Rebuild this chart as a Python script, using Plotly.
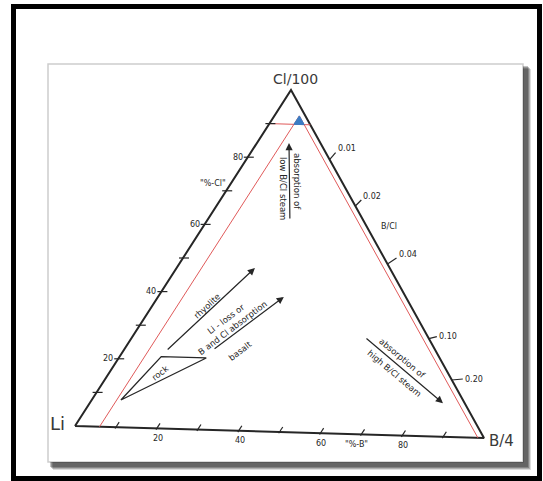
import plotly.graph_objects as go

# ---- data (compositions in percent: Li, B/4, Cl/100) ----
pct_ticks = [10, 20, 30, 40, 50, 60, 70, 80, 90]
pct_labels = [20, 40, 60, 80]
bcl_ratios = [0.01, 0.02, 0.04, 0.10, 0.20]
bcl_labels = ["0.01", "0.02", "0.04", "0.10", "0.20"]

rock_li = [85, 69, 58]
rock_b = [7, 10, 21]
rock_cl = [8, 21, 21]

# red guide lines: constant B/4 = 6 %, constant Li = 1.5 %, constant Cl/100 = 90 %
red_b6_li = [94, 1.5]
red_b6_b = [6, 6]
red_b6_cl = [0, 92.5]
red_li_li = [1.5, 1.5]
red_li_b = [6, 98.5]
red_li_cl = [92.5, 0]
red_cl_li = [10, 0]
red_cl_b = [0, 10]
red_cl_cl = [90, 90]

# blue field near the Cl apex
blue_li = [4, 1.5, 1.5]
blue_b = [6, 8.5, 6]
blue_cl = [90, 90, 92.5]

# process arrows: (tail composition, head composition)
arrow_low = ((18.2, 19.8, 62.0), (7.8, 7.7, 84.5))
arrow_rhy = ((67.0, 10.3, 22.7), (33.5, 18.8, 47.7))
arrow_bas = ((55.2, 21.4, 23.4), (30.3, 30.2, 39.5))
arrow_high = ((15.7, 55.9, 28.4), (5.4, 84.8, 9.8))

# ---- drawing geometry (page pixels) ----
V_LI = (75.0, 426.0)
V_B = (484.0, 438.0)
V_CL = (291.0, 90.0)
W, H = 543, 481
INK = "#262626"
FONT = "DejaVu Sans"


def tern(li, b, cl):
    s = li + b + cl
    li, b, cl = li / s, b / s, cl / s
    x = li * V_LI[0] + b * V_B[0] + cl * V_CL[0]
    y = li * V_LI[1] + b * V_B[1] + cl * V_CL[1]
    return x, y


def path(lis, bs, cls, close=False):
    pts = [tern(a, b, c) for a, b, c in zip(lis, bs, cls)]
    if close:
        pts.append(pts[0])
    return [p[0] for p in pts], [p[1] for p in pts]


fig = go.Figure()

# page frame, sheet and its shadow
shapes = [
    dict(type="rect", x0=0, y0=0, x1=W, y1=H, fillcolor="white", line_width=0, layer="below"),
]
for off, a in [(8, 0.14), (7, 0.2), (6, 0.24), (5, 0.24)]:
    shapes.append(dict(type="rect", x0=48 + off - 3, y0=64 + off - 3, x1=523 + off, y1=462 + off,
                       fillcolor=f"rgba(0,0,0,{a})", line_width=0, layer="below"))
shapes.append(dict(type="rect", x0=48, y0=64, x1=523, y1=462, fillcolor="white",
                   line=dict(color="rgba(0,0,0,0.2)", width=1.5), layer="below"))
shapes.append(dict(type="rect", x0=13.5, y0=6.5, x1=539.5, y1=478.5, fillcolor="rgba(0,0,0,0)",
                   line=dict(color="black", width=5)))

# triangle outline
tx, ty = path([100, 0, 0], [0, 100, 0], [0, 0, 100], close=True)
fig.add_trace(go.Scatter(x=tx, y=ty, mode="lines", line=dict(color=INK, width=2), hoverinfo="skip"))

# red guide lines
for lis, bs, cls in [(red_b6_li, red_b6_b, red_b6_cl), (red_li_li, red_li_b, red_li_cl),
                     (red_cl_li, red_cl_b, red_cl_cl)]:
    x, y = path(lis, bs, cls)
    fig.add_trace(go.Scatter(x=x, y=y, mode="lines", line=dict(color="#e05a5a", width=1), hoverinfo="skip"))

# blue field
bx, by = path(blue_li, blue_b, blue_cl, close=True)
fig.add_trace(go.Scatter(x=bx, y=by, mode="lines", fill="toself", fillcolor="#3b7cc4",
                         line=dict(color="#3b7cc4", width=1), hoverinfo="skip"))

# rock field
rx, ry = path(rock_li, rock_b, rock_cl, close=True)
fig.add_trace(go.Scatter(x=rx, y=ry, mode="lines", line=dict(color=INK, width=1.3), hoverinfo="skip"))

# ticks on the Li-Cl side (horizontal) and on the Li-B side (slanted)
kx, ky = [], []
ex = V_CL[0] - V_LI[0]
ey = V_CL[1] - V_LI[1]
el = (ex ** 2 + ey ** 2) ** 0.5
ux, uy = ex / el, ey / el
for v in pct_ticks:
    x, y = tern(100 - v, 0, v)
    kx += [x - 4, x + 6, None]
    ky += [y, y, None]
    x, y = tern(100 - v, v, 0)
    kx += [x - 1.5 * ux, x + 6 * ux, None]
    ky += [y - 1.5 * uy, y + 6 * uy, None]

annotations = []
for v in pct_labels:
    x, y = tern(100 - v, 0, v)
    annotations.append(dict(x=x - 3, y=y, text=str(v), xanchor="right", yanchor="middle"))
    x, y = tern(100 - v, v, 0)
    annotations.append(dict(x=x + 1, y=y + 10, text=str(v), xanchor="center", yanchor="middle"))

# B/Cl ticks on the B-Cl side
tick_dirs = [(6, -7), (6, -6), (9, -6), (8, -2), (11, -1)]
for r, lab, (dx, dy) in zip(bcl_ratios, bcl_labels, tick_dirs):
    bf = 25 * r / (1 + 25 * r)
    x, y = tern(0, 100 * bf, 100 * (1 - bf))
    kx += [x, x + dx, None]
    ky += [y, y + dy, None]
    annotations.append(dict(x=x + dx, y=y + dy - (4 if dy < -3 else 0), text=lab,
                            xanchor="left", yanchor="middle"))

fig.add_trace(go.Scatter(x=kx, y=ky, mode="lines", line=dict(color=INK, width=1.2), hoverinfo="skip"))

# axis captions
annotations += [
    dict(x=213, y=183, text="\"%-Cl\"", xanchor="center", yanchor="middle"),
    dict(x=356, y=444, text="\"%-B\"", xanchor="center", yanchor="middle"),
    dict(x=389, y=226, text="B/Cl", xanchor="center", yanchor="middle"),
]

# vertex labels
big = dict(family=FONT, color="#3a3a3a")
annotations += [
    dict(x=V_CL[0] + 4, y=V_CL[1] - 11, text="Cl/100", font=dict(size=14, **big)),
    dict(x=V_LI[0] - 18, y=V_LI[1] - 3, text="Li", font=dict(size=18, **big)),
    dict(x=V_B[0] + 17, y=V_B[1] + 3, text="B/4", font=dict(size=15, **big)),
]

# process arrows
for tail, head in [arrow_low, arrow_rhy, arrow_bas, arrow_high]:
    x0, y0 = tern(*tail)
    x1, y1 = tern(*head)
    annotations.append(dict(x=x1, y=y1, ax=x0, ay=y0, axref="x", ayref="y", text="",
                            showarrow=True, arrowhead=2, arrowsize=1.2, arrowwidth=1.2,
                            arrowcolor=INK, standoff=0, startstandoff=0))

# process labels
lab = dict(family=FONT, size=8.5, color=INK)
annotations += [
    dict(x=297, y=181, text="absorption of", textangle=90, font=lab),
    dict(x=283, y=188, text="low B/Cl steam", textangle=90, font=lab),
    dict(x=207, y=306, text="rhyolite", textangle=-43, font=lab),
    dict(x=229, y=323, text="Li - loss or<br>B and Cl absorption", textangle=-37, font=lab),
    dict(x=240, y=351, text="basalt", textangle=-37, font=lab),
    dict(x=160, y=373, text="rock", textangle=-38, font=lab),
    dict(x=402, y=358, text="absorption of", textangle=40, font=lab),
    dict(x=394, y=373, text="high B/Cl steam", textangle=40, font=lab),
]

for a in annotations:
    a.setdefault("showarrow", False)
    a.setdefault("xref", "x")
    a.setdefault("yref", "y")
    a.setdefault("font", dict(family=FONT, size=8, color=INK))

fig.update_layout(
    width=W, height=H,
    margin=dict(l=0, r=0, t=0, b=0),
    paper_bgcolor="white", plot_bgcolor="white",
    showlegend=False,
    xaxis=dict(range=[0, W], visible=False, fixedrange=True),
    yaxis=dict(range=[H, 0], visible=False, fixedrange=True),
    shapes=shapes,
    annotations=annotations,
)

fig.write_html("out.html")
